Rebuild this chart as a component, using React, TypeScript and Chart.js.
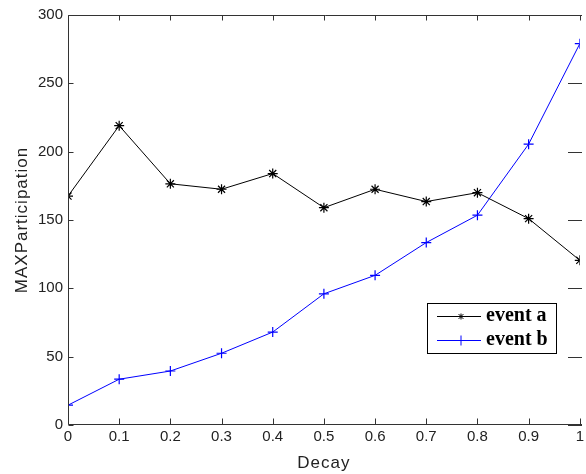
import React, { useEffect, useRef } from "react";
import { Chart, registerables } from "chart.js";

Chart.register(...registerables);

const decay = [0, 0.1, 0.2, 0.3, 0.4, 0.5, 0.6, 0.7, 0.8, 0.9, 1];
const eventA = [167.5, 219, 176.5, 172.5, 184, 159, 172.5, 163.5, 170, 151, 120.5];
const eventB = [14.5, 33.5, 39.5, 52.5, 68, 96, 109.5, 133.5, 153.5, 205.5, 279];
const xTicks = [0, 0.1, 0.2, 0.3, 0.4, 0.5, 0.6, 0.7, 0.8, 0.9, 1];
const yTicks = [0, 50, 100, 150, 200, 250, 300];
const seriesNames = ["event a", "event b"];
const seriesColors = ["#000000", "#0000ff"];
const xTitle = "Decay";
const yTitle = "MAXParticipation";

const AXIS_COLOR = "#333333";
const TEXT_COLOR = "#222222";

const decorPlugin = {
  id: "decor",
  afterDatasetsDraw(chart: any) {
    const ctx = chart.ctx as CanvasRenderingContext2D;
    const { left, right, top, bottom } = chart.chartArea;
    const xs = chart.scales.x;
    const ys = chart.scales.y;
    ctx.save();
    ctx.strokeStyle = AXIS_COLOR;
    ctx.lineWidth = 1;
    const L = Math.round(left) + 0.5;
    const T = Math.round(top) + 0.5;
    const B = Math.round(bottom) - 0.5;
    const R = Math.round(right);
    ctx.beginPath();
    ctx.moveTo(L, T);
    ctx.lineTo(L, B);
    ctx.lineTo(R + 2, B);
    ctx.moveTo(L, T);
    ctx.lineTo(R + 2, T);
    xTicks.forEach((v) => {
      const px = Math.round(xs.getPixelForValue(v)) + 0.5;
      ctx.moveTo(px, B);
      ctx.lineTo(px, B - 6);
      ctx.moveTo(px, T);
      ctx.lineTo(px, T + 5);
    });
    yTicks.forEach((v) => {
      const py = Math.round(ys.getPixelForValue(v)) + 0.5;
      ctx.moveTo(L, py);
      ctx.lineTo(L + 5, py);
      ctx.moveTo(R - 12, py);
      ctx.lineTo(R + 2, py);
    });
    ctx.stroke();

    ctx.fillStyle = TEXT_COLOR;
    ctx.font = '17px "Liberation Sans", Arial, sans-serif';
    try {
      (ctx as any).letterSpacing = "1px";
    } catch (e) {}
    ctx.textAlign = "center";
    ctx.textBaseline = "alphabetic";
    ctx.fillText(xTitle, (left + right) / 2, 468);
    ctx.save();
    ctx.translate(27, (top + bottom) / 2);
    ctx.rotate(-Math.PI / 2);
    ctx.fillText(yTitle, 0, 0);
    ctx.restore();
    try {
      (ctx as any).letterSpacing = "0px";
    } catch (e) {}

    const bx = 427.5, by = 303.5, bw = 129, bh = 50;
    ctx.fillStyle = "#ffffff";
    ctx.fillRect(bx, by, bw, bh);
    ctx.strokeStyle = "#000000";
    ctx.strokeRect(bx, by, bw, bh);
    const rows = [316, 340];
    rows.forEach((ry, i) => {
      const c = seriesColors[i];
      ctx.strokeStyle = c;
      ctx.beginPath();
      ctx.moveTo(437, ry + 0.5);
      ctx.lineTo(481, ry + 0.5);
      const mx = 461;
      const my = ry + 0.5;
      if (i === 0) {
        const r = 3;
        ctx.moveTo(mx - r, my);
        ctx.lineTo(mx + r, my);
        ctx.moveTo(mx, my - r);
        ctx.lineTo(mx, my + r);
        const d = r * 0.8;
        ctx.moveTo(mx - d, my - d);
        ctx.lineTo(mx + d, my + d);
        ctx.moveTo(mx - d, my + d);
        ctx.lineTo(mx + d, my - d);
      } else {
        const r = 5;
        ctx.moveTo(mx, my - r);
        ctx.lineTo(mx, my + r);
      }
      ctx.stroke();
      ctx.fillStyle = "#000000";
      ctx.font = 'bold 20px "Liberation Serif", "Times New Roman", serif';
      ctx.textAlign = "left";
      ctx.textBaseline = "middle";
      ctx.fillText(seriesNames[i], 486, ry);
    });
    ctx.restore();
  },
};

export default function App() {
  const ref = useRef<HTMLCanvasElement | null>(null);
  useEffect(() => {
    if (!ref.current) return;
    const chart = new Chart(ref.current, {
      type: "line",
      data: {
        datasets: [
          {
            label: seriesNames[0],
            data: decay.map((x, i) => ({ x, y: eventA[i] })),
            borderColor: seriesColors[0],
            backgroundColor: seriesColors[0],
            borderWidth: 1,
            pointStyle: "star",
            pointRadius: 5,
            pointBorderWidth: 1.2,
            pointBorderColor: seriesColors[0],
            tension: 0,
            fill: false,
          },
          {
            label: seriesNames[1],
            data: decay.map((x, i) => ({ x, y: eventB[i] })),
            borderColor: seriesColors[1],
            backgroundColor: seriesColors[1],
            borderWidth: 1,
            pointStyle: "cross",
            pointRadius: 5,
            pointBorderWidth: 1.2,
            pointBorderColor: seriesColors[1],
            tension: 0,
            fill: false,
          },
        ],
      },
      options: {
        animation: false,
        responsive: false,
        devicePixelRatio: 1,
        layout: { padding: { top: 15, right: 0, left: 0, bottom: 0 } },
        plugins: {
          legend: { display: false },
          tooltip: { enabled: false },
        },
        scales: {
          x: {
            type: "linear",
            min: 0,
            max: 1,
            afterBuildTicks: (s: any) => {
              s.ticks = xTicks.map((v) => ({ value: v }));
            },
            afterFit: (s: any) => {
              s.height = 49;
              s.paddingLeft = 0;
              s.paddingRight = 0;
            },
            grid: { display: false, drawTicks: false },
            border: { display: false },
            ticks: {
              padding: 3,
              maxRotation: 0,
              autoSkip: false,
              color: TEXT_COLOR,
              font: { family: '"Liberation Sans", Arial, sans-serif', size: 15 },
              callback: (v: any) => String(Number(Number(v).toFixed(1))),
            },
          },
          y: {
            type: "linear",
            min: 0,
            max: 300,
            afterBuildTicks: (s: any) => {
              s.ticks = yTicks.map((v) => ({ value: v }));
            },
            afterFit: (s: any) => {
              s.width = 68;
              s.paddingTop = 0;
              s.paddingBottom = 0;
            },
            grid: { display: false, drawTicks: false },
            border: { display: false },
            ticks: {
              padding: 5,
              autoSkip: false,
              color: TEXT_COLOR,
              font: { family: '"Liberation Sans", Arial, sans-serif', size: 15 },
            },
          },
        },
      },
      plugins: [decorPlugin],
    } as any);
    return () => chart.destroy();
  }, []);
  return (
    <div style={{ position: "fixed", left: 0, top: 0, width: 586, height: 474, background: "#fff" }}>
      <canvas ref={ref} width={586} height={474} style={{ display: "block" }} />
    </div>
  );
}
